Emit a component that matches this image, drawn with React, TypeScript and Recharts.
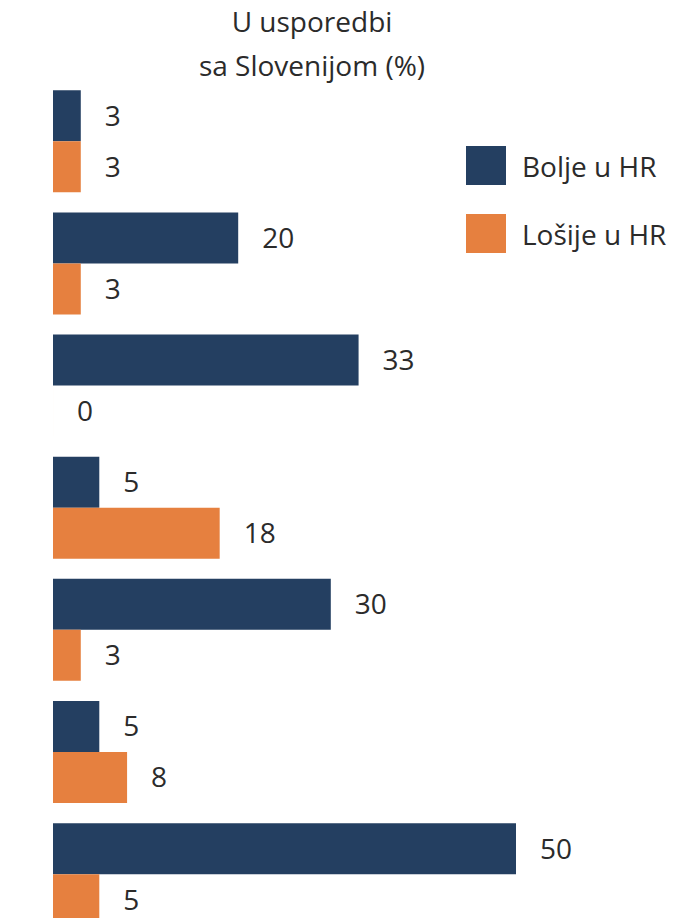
import { BarChart, Bar, XAxis, YAxis, LabelList } from "recharts";

// Groups in the chart, top to bottom (their names are cropped out of the picture)
const categories = ["1", "2", "3", "4", "5", "6", "7"];
const boljeUHR = [3, 20, 33, 5, 30, 5, 50];
const losijeUHR = [3, 3, 0, 18, 3, 8, 5];

const seriesNames = ["Bolje u HR", "Lošije u HR"];
const titleLines = ["U usporedbi", "sa Slovenijom (%)"];

const NAVY = "#243f61";
const ORANGE = "#e6803f";
const TEXT = "#2b2b2b";
const colors = [NAVY, ORANGE];

const data = categories.map((c, i) => ({
    name: c,
    bolje: boljeUHR[i],
    losije: losijeUHR[i],
}));

export default function App() {
    return (
        <div
            style={{
                position: "fixed",
                left: 0,
                top: 0,
                width: 674,
                height: 918,
                overflow: "hidden",
                background: "#fff",
                fontFamily: "'Open Sans', sans-serif",
            }}
        >
            {/* Title */}
            <div
                style={{
                    position: "absolute",
                    left: 132,
                    width: 360,
                    top: -1,
                    textAlign: "center",
                    fontSize: 28,
                    lineHeight: "44px",
                    color: TEXT,
                }}
            >
                {titleLines.map((l) => (
                    <div key={l}>{l}</div>
                ))}
            </div>

            <div style={{ position: "absolute", left: 0, top: 0 }}>
                <BarChart
                    width={674}
                    height={935}
                    data={data}
                    layout="vertical"
                    margin={{ top: 80, right: 158, bottom: 0, left: 53 }}
                    barCategoryGap={10.3}
                    barGap={0}
                >
                    <XAxis type="number" domain={[0, 50]} hide />
                    <YAxis type="category" dataKey="name" hide width={0} />
                    <Bar dataKey="bolje" name={seriesNames[0]} fill={NAVY} minPointSize={0.01} isAnimationActive={false}>
                        <LabelList dataKey="bolje" position="right" offset={24} fill={TEXT} fontSize={28} />
                    </Bar>
                    <Bar dataKey="losije" name={seriesNames[1]} fill={ORANGE} minPointSize={0.01} isAnimationActive={false}>
                        <LabelList dataKey="losije" position="right" offset={24} fill={TEXT} fontSize={28} />
                    </Bar>
                </BarChart>
            </div>

            {/* Legend */}
            <div style={{ position: "absolute", left: 466, top: 146, display: "flex", flexDirection: "column", gap: 29 }}>
                {seriesNames.map((n, i) => (
                    <div key={n} style={{ display: "flex", alignItems: "center", height: 39 }}>
                        <div style={{ width: 40, height: 39, background: colors[i], marginRight: 16 }} />
                        <span style={{ fontSize: 28, color: TEXT, whiteSpace: "nowrap" }}>{n}</span>
                    </div>
                ))}
            </div>
        </div>
    );
}
